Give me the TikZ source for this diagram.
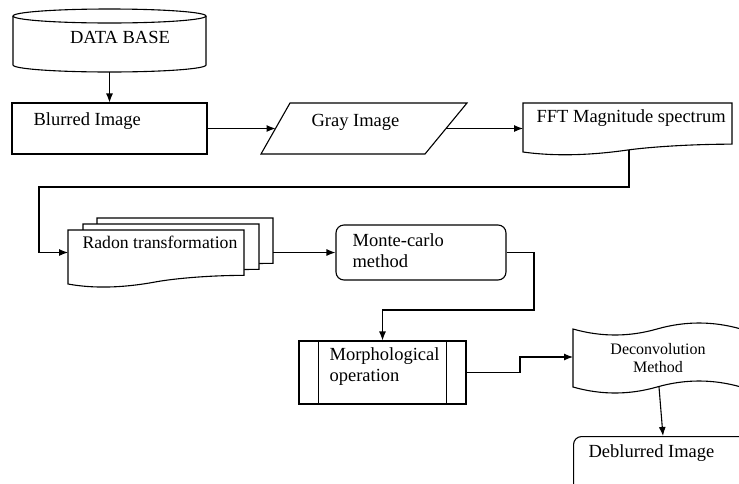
\documentclass[tikz,border=0pt]{standalone}
\usepackage{fontspec}
\setmainfont{Liberation Serif}
\usetikzlibrary{arrows.meta}

% page with a wavy bottom: x, y (top left), width, height
\newcommand{\wavedoc}[4]{%
  \draw[fill=white] (#1,#2) -- ({#1+#3},#2) -- ({#1+#3},{#2+0.84*#4})
    .. controls ({#1+0.8*#3},{#2+0.84*#4}) and ({#1+0.6*#3},{#2+0.9*#4}) .. ({#1+0.5*#3},{#2+0.96*#4})
    .. controls ({#1+0.4*#3},{#2+1.02*#4}) and ({#1+0.2*#3},{#2+1.12*#4}) .. (#1,{#2+#4}) -- cycle;}

\tikzset{
  lbl/.style={inner sep=0pt, font=\fontsize{18.5}{20.5}\selectfont},
  box/.style={draw, inner sep=0pt},
  arr/.style={-{Latex[length=9pt,width=7pt]}}
}

\begin{document}
\begin{tikzpicture}[x=1pt,y=-1pt,line width=1.1pt]
	\useasboundingbox (0,0) rectangle (739,483);
	\clip (0,0) rectangle (739,483);

	% data base
	\draw (13,16) -- (13,65) arc[start angle=180,end angle=360,x radius=96.5pt,y radius=7pt] -- (206,16);
	\draw (109.5,16) ellipse[x radius=96.5pt,y radius=7pt];
	\node[lbl,anchor=base] (db) at (120,43) {DATA BASE};
	\coordinate (db-out) at (109.5,72);

	% blurred image
	\node[box,minimum width=195pt,minimum height=51pt] (blur) at (109.5,128.5) {};
	\node[lbl,anchor=base west] (blur-t) at (33,125.5) {Blurred Image};
	\draw[arr] (db-out) -- (blur.north);

	% gray image
	\draw (261,154) -- (290,103) -- (467,103) -- (425,154) -- cycle;
	\node[lbl,anchor=base west] (gray) at (311,126) {Gray Image};
	\coordinate (gray-in) at (275.5,128.5);
	\coordinate (gray-out) at (446,128.5);
	\draw[arr] (blur.east) -- (gray-in);

	% fft
	\wavedoc{523}{103}{209}{49}
	\node[lbl,anchor=base west] (fft) at (536,122) {FFT Magnitude spectrum};
	\coordinate (fft-in) at (523,128.5);
	\coordinate (fft-out) at (629,150);
	\draw[arr] (gray-out) -- (fft-in);

	% radon
	\wavedoc{97}{218}{176}{54}
	\wavedoc{83}{224}{176}{54}
	\wavedoc{68}{230}{176}{54}
	\node[lbl,font=\fontsize{17.7}{20}\selectfont,anchor=base west] (radon) at (82,248) {Radon transformation};
	\coordinate (radon-in) at (68,252.5);
	\coordinate (radon-out) at (273,252.5);
	\draw[arr] (fft-out) |- (39,187) |- (radon-in);

	% monte-carlo
	\node[box,rounded corners=8pt,minimum width=170pt,minimum height=55pt] (monte) at (421,252.5) {};
	\node[lbl,anchor=north west,align=left] (monte-t) at (352,233.5) {Monte-carlo\\method};
	\draw[arr] (radon-out) -- (monte.west);

	% morphological
	\node[box,minimum width=167pt,minimum height=63pt] (morph) at (382.5,372.5) {};
	\draw ([xshift=20pt]morph.north west) -- ([xshift=20pt]morph.south west);
	\draw ([xshift=-20pt]morph.north east) -- ([xshift=-20pt]morph.south east);
	\node[lbl,anchor=north west,align=left] (morph-t) at (329,347.5) {Morphological\\operation};
	\draw[arr] (monte.east) -| (534,310) -| (morph.north);

	% deconvolution
	\draw (573,329) .. controls (601,337) and (629,337) .. (657,329)
		.. controls (685,321) and (713,321) .. (741,329) -- (741,387)
		.. controls (713,379) and (685,379) .. (657,387)
		.. controls (629,395) and (601,395) .. (573,387) -- cycle;
	\node[lbl,font=\fontsize{16}{18}\selectfont,anchor=north,align=center] (decon) at (658,343) {Deconvolution\\Method};
	\coordinate (decon-in) at (573,357);
	\coordinate (decon-out) at (659,387);
	\draw[arr] (morph.east) -| (520,357) -- (decon-in);

	% deblurred
	\node[box,rounded corners=8pt,anchor=north west,minimum width=250pt,minimum height=100pt] (deblur) at (573,436) {};
	\node[lbl,anchor=base west] (deblur-t) at (588,457) {Deblurred Image};
	\draw[arr] (decon-out) -- ([xshift=90pt]deblur.north west);
\end{tikzpicture}
\end{document}
